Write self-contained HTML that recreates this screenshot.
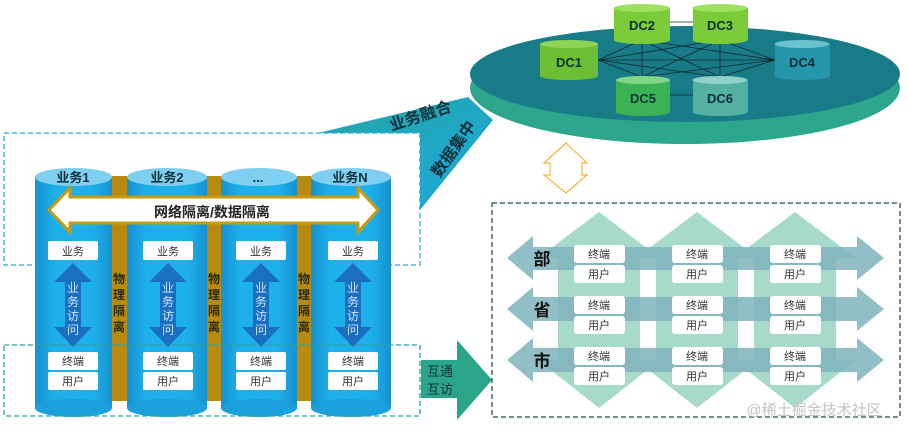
<!DOCTYPE html>
<html><head><meta charset="utf-8"><style>
html,body{margin:0;padding:0;background:#fff;}
svg{display:block;font-family:"Liberation Sans","Noto Sans CJK SC",sans-serif;}
</style></head><body>
<svg width="909" height="435" viewBox="0 0 909 435" xmlns="http://www.w3.org/2000/svg">
<defs>
<linearGradient id="cyl" x1="0" x2="1" y1="0" y2="0">
<stop offset="0" stop-color="#1592cf"/><stop offset="0.25" stop-color="#1eb0ea"/><stop offset="0.75" stop-color="#1eb0ea"/><stop offset="1" stop-color="#1592cf"/></linearGradient>
<linearGradient id="band" x1="0" x2="1" y1="0" y2="1"><stop offset="0" stop-color="#26a6a6"/><stop offset="1" stop-color="#1aa8dc"/></linearGradient>
</defs>

<polygon points="318,133 468,97 493,120 420,210 420,133" fill="url(#band)"/>
<text transform="translate(422,121) rotate(-18)" font-size="16" font-weight="bold" fill="#10303a" text-anchor="middle">业务融合</text>
<text transform="translate(458,152) rotate(-55)" font-size="16" font-weight="bold" fill="#10303a" text-anchor="middle">数据集中</text>

<ellipse cx="685" cy="88" rx="215" ry="56" fill="#2da68e"/>
<ellipse cx="685" cy="74" rx="215" ry="48" fill="#1a7b88"/>
<g stroke="#0e2a30" stroke-width="0.8">
<line x1="598" y1="60" x2="775" y2="60"/><line x1="598" y1="60" x2="642" y2="40"/><line x1="598" y1="60" x2="720" y2="40"/><line x1="598" y1="60" x2="642" y2="77"/><line x1="598" y1="60" x2="720" y2="77"/>
<line x1="775" y1="60" x2="642" y2="40"/><line x1="775" y1="60" x2="720" y2="40"/><line x1="775" y1="60" x2="642" y2="77"/><line x1="775" y1="60" x2="720" y2="77"/>
<line x1="642" y1="40" x2="642" y2="77"/><line x1="720" y1="40" x2="720" y2="77"/><line x1="642" y1="40" x2="720" y2="77"/><line x1="720" y1="40" x2="642" y2="77"/>
<line x1="670" y1="22" x2="693" y2="22"/><line x1="670" y1="95" x2="693" y2="95"/>
</g>
<g font-size="13" font-weight="bold" fill="#10303a" text-anchor="middle">
<rect x="614" y="8" width="56" height="32" fill="#7ccc3a"/><ellipse cx="642" cy="40" rx="28" ry="4" fill="#7ccc3a"/><ellipse cx="642" cy="8" rx="28" ry="4" fill="#9ee060"/><text x="642" y="30">DC2</text>
<rect x="693" y="8" width="55" height="32" fill="#7ccc3a"/><ellipse cx="720" cy="40" rx="27.5" ry="4" fill="#7ccc3a"/><ellipse cx="720" cy="8" rx="27.5" ry="4" fill="#9ee060"/><text x="720" y="30">DC3</text>
<rect x="540" y="44" width="58" height="32" fill="#6cbf34"/><ellipse cx="569" cy="76" rx="29" ry="4" fill="#6cbf34"/><ellipse cx="569" cy="44" rx="29" ry="4" fill="#8fd555"/><text x="569" y="67">DC1</text>
<rect x="775" y="44" width="55" height="32" fill="#2596ac"/><ellipse cx="802" cy="76" rx="27.5" ry="4" fill="#2596ac"/><ellipse cx="802" cy="44" rx="27.5" ry="4" fill="#6cc2cc"/><text x="802" y="67">DC4</text>
<rect x="616" y="80" width="54" height="32" fill="#3bb255"/><ellipse cx="643" cy="112" rx="27" ry="4" fill="#3bb255"/><ellipse cx="643" cy="80" rx="27" ry="4" fill="#7fd88a"/><text x="643" y="103">DC5</text>
<rect x="693" y="80" width="55" height="32" fill="#54b0a2"/><ellipse cx="720" cy="112" rx="27.5" ry="4" fill="#54b0a2"/><ellipse cx="720" cy="80" rx="27.5" ry="4" fill="#8fd2c8"/><text x="720" y="103">DC6</text>
</g>

<polygon points="566,143 587,163 582,163 582,175 587,175 566,193 544,175 550,175 550,163 544,163" fill="#fff" stroke="#f2b630" stroke-width="1.2"/>

<rect x="4" y="133" width="416" height="132" fill="none" stroke="#2aa8d8" stroke-width="1.3" stroke-dasharray="5,3"/>

<g fill="#b88a10">
<rect x="110" y="176" width="19" height="225"/><rect x="205" y="176" width="18" height="225"/><rect x="295" y="176" width="18" height="225"/>
</g>
<g>
<rect x="35" y="177" width="77" height="231" fill="url(#cyl)"/><ellipse cx="73.5" cy="408" rx="38.5" ry="9" fill="#1aa0dc"/><ellipse cx="73.5" cy="177" rx="38.5" ry="9" fill="#7fd0f0"/>
<rect x="127" y="177" width="80" height="231" fill="url(#cyl)"/><ellipse cx="167" cy="408" rx="40" ry="9" fill="#1aa0dc"/><ellipse cx="167" cy="177" rx="40" ry="9" fill="#7fd0f0"/>
<rect x="221" y="177" width="76" height="231" fill="url(#cyl)"/><ellipse cx="259" cy="408" rx="38" ry="9" fill="#1aa0dc"/><ellipse cx="259" cy="177" rx="38" ry="9" fill="#7fd0f0"/>
<rect x="311" y="177" width="80" height="231" fill="url(#cyl)"/><ellipse cx="351" cy="408" rx="40" ry="9" fill="#1aa0dc"/><ellipse cx="351" cy="177" rx="40" ry="9" fill="#7fd0f0"/>
</g>
<g font-size="13" font-weight="bold" fill="#10303a" text-anchor="middle">
<text x="73" y="182">业务1</text><text x="167" y="182">业务2</text><text x="258" y="182">...</text><text x="350" y="182">业务N</text>
</g>
<rect x="4" y="345" width="416" height="71" fill="none" stroke="#2aa0a0" stroke-width="1.3" stroke-dasharray="5,3"/>

<polygon points="49,210 70,188 70,197 358,197 358,188 378,210 358,232 358,223 70,223 70,232" fill="#fff" stroke="#c89a10" stroke-width="3"/>
<text x="212" y="217" font-size="14" font-weight="bold" fill="#222" text-anchor="middle">网络隔离/数据隔离</text>

<g font-size="12" font-weight="bold" fill="#2a2a10" text-anchor="middle">
<text x="119" y="283">物</text><text x="119" y="299">理</text><text x="119" y="315">隔</text><text x="119" y="331">离</text>
<text x="214" y="283">物</text><text x="214" y="299">理</text><text x="214" y="315">隔</text><text x="214" y="331">离</text>
<text x="304" y="283">物</text><text x="304" y="299">理</text><text x="304" y="315">隔</text><text x="304" y="331">离</text>
</g>

<g id="col">
<rect x="48" y="241" width="50" height="19" rx="2" fill="#fff"/><text x="73" y="255" font-size="11" text-anchor="middle" fill="#333">业务</text>
<polygon points="73,263 92,282 81,282 81,327 92,327 73,347 54,327 65,327 65,282 54,282" fill="#1a6fc0"/>
<g font-size="12" fill="#cfe6ff" text-anchor="middle"><text x="73" y="292">业</text><text x="73" y="306">务</text><text x="73" y="320">访</text><text x="73" y="334">问</text></g>
<rect x="48" y="352" width="50" height="18" rx="2" fill="#fff"/><text x="73" y="365" font-size="11" text-anchor="middle" fill="#333">终端</text>
<rect x="48" y="372" width="50" height="18" rx="2" fill="#fff"/><text x="73" y="385" font-size="11" text-anchor="middle" fill="#333">用户</text>
</g>
<use href="#col" x="95"/><use href="#col" x="188"/><use href="#col" x="280"/>

<polygon points="421,360 457,360 457,340 492,380 457,420 457,398 421,398" fill="#2aa58a"/>
<text x="440" y="376" font-size="13" fill="#10303a" text-anchor="middle">互通</text>
<text x="440" y="394" font-size="13" fill="#10303a" text-anchor="middle">互访</text>

<rect x="492" y="203" width="408" height="214" fill="none" stroke="#2a4a5a" stroke-width="1.3" stroke-dasharray="5,3"/>
<g fill="#9fd6c6" opacity="0.9">
<polygon points="599,212 660,258 640,258 640,360 660,360 599,408 538,360 558,360 558,258 538,258"/>
<polygon points="697,212 758,258 738,258 738,360 758,360 697,408 636,360 656,360 656,258 636,258"/>
<polygon points="795,212 856,258 836,258 836,360 856,360 795,408 734,360 754,360 754,258 734,258"/>
</g>
<g fill="#7fb4bd" opacity="0.85">
<polygon points="507,258 533,236 533,247 857,247 857,236 884,258 857,280 857,270 533,270 533,280"/>
<polygon points="507,309 533,287 533,297 857,297 857,287 884,309 857,331 857,321 533,321 533,331"/>
<polygon points="507,360 533,338 533,348 857,348 857,338 884,360 857,382 857,372 533,372 533,382"/>
</g>
<g font-size="17" font-weight="bold" fill="#111" text-anchor="middle">
<text x="542" y="265">部</text><text x="542" y="316">省</text><text x="542" y="367">市</text>
</g>
<g id="pair">
<rect x="574" y="245" width="51" height="18" rx="3" fill="#fff"/><text x="599" y="258" font-size="11" text-anchor="middle" fill="#333">终端</text>
<rect x="574" y="265" width="51" height="18" rx="3" fill="#fff"/><text x="599" y="278" font-size="11" text-anchor="middle" fill="#333">用户</text>
</g>
<use href="#pair" x="98"/><use href="#pair" x="196"/>
<use href="#pair" y="51"/><use href="#pair" x="98" y="51"/><use href="#pair" x="196" y="51"/>
<use href="#pair" y="102"/><use href="#pair" x="98" y="102"/><use href="#pair" x="196" y="102"/>

<text x="814" y="415" font-size="15" fill="#c4c4c4" text-anchor="middle">@稀土掘金技术社区</text>
</svg>
</body></html>
